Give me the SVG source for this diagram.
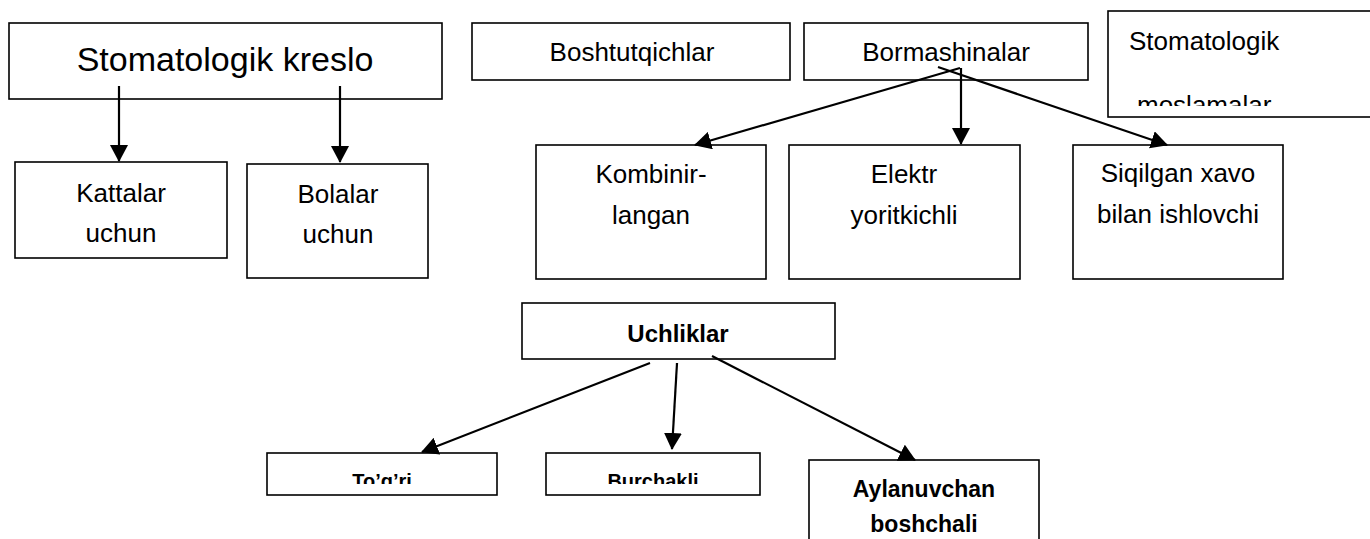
<svg xmlns="http://www.w3.org/2000/svg" width="1370" height="539" viewBox="0 0 1370 539">
<style>
.box{fill:#fff;stroke:#000;stroke-width:1.6}
.t{font-family:"Liberation Sans",Arial,sans-serif;font-size:26px;fill:#000;text-anchor:middle}
.b{font-weight:bold}
.c{stroke:#000;stroke-width:2.2;fill:none;marker-end:url(#ah)}
</style>
<defs>
<marker id="ah" markerUnits="userSpaceOnUse" markerWidth="18" markerHeight="18" viewBox="0 0 18 18" refX="16" refY="9" orient="auto">
<path d="M0,0 L17,9 L0,18 Z" fill="#000"/>
</marker>
<clipPath id="cm"><rect x="1108" y="11" width="262" height="95"/></clipPath>
<clipPath id="ct"><rect x="267" y="453" width="500" height="31"/></clipPath>
</defs>
<rect width="1370" height="539" fill="#fff"/>
<g id="n-kreslo"><rect class="box" x="9" y="23" width="433" height="76"/><text class="t" x="225" y="71" style="font-size:34px">Stomatologik kreslo</text></g>
<g id="n-kattalar"><rect class="box" x="15" y="162" width="212" height="96"/><text class="t" x="121" y="202">Kattalar</text><text class="t" x="121" y="242">uchun</text></g>
<g id="n-bolalar"><rect class="box" x="247" y="164" width="181" height="114"/><text class="t" x="338" y="203">Bolalar</text><text class="t" x="338" y="243">uchun</text></g>
<g id="n-boshtutqich"><rect class="box" x="472" y="23" width="318" height="57"/><text class="t" x="632" y="61">Boshtutqichlar</text></g>
<g id="n-bormashina"><rect class="box" x="804" y="23" width="284" height="57"/><text class="t" x="946" y="61">Bormashinalar</text></g>
<g id="n-moslama"><rect class="box" x="1108" y="11" width="270" height="106"/><text class="t" x="1129" y="50" style="text-anchor:start">Stomatologik</text><text class="t" x="1137" y="114" clip-path="url(#cm)" style="text-anchor:start">moslamalar</text></g>
<g id="n-kombinir"><rect class="box" x="536" y="145" width="230" height="134"/><text class="t" x="651" y="183">Kombinir-</text><text class="t" x="651" y="224">langan</text></g>
<g id="n-elektr"><rect class="box" x="789" y="145" width="231" height="134"/><text class="t" x="904" y="183">Elektr</text><text class="t" x="904" y="224">yoritkichli</text></g>
<g id="n-siqilgan"><rect class="box" x="1073" y="145" width="210" height="134"/><text class="t" x="1178" y="182">Siqilgan xavo</text><text class="t" x="1178" y="223">bilan ishlovchi</text></g>
<g id="n-uchlik"><rect class="box" x="522" y="303" width="313" height="56"/><text class="t b" x="678" y="342" style="font-size:24px">Uchliklar</text></g>
<g id="n-togri"><rect class="box" x="267" y="453" width="230" height="42"/><text class="t b" x="382" y="488" clip-path="url(#ct)" style="font-size:20px">To’g’ri</text></g>
<g id="n-burchak"><rect class="box" x="546" y="453" width="214" height="42"/><text class="t b" x="653" y="488" clip-path="url(#ct)" style="font-size:20px">Burchakli</text></g>
<g id="n-aylanuv"><rect class="box" x="809" y="460" width="230" height="100"/><text class="t b" x="924" y="497" style="font-size:23px">Aylanuvchan</text><text class="t b" x="924" y="532" style="font-size:23px">boshchali</text></g>
<g id="connectors">
<line class="c" x1="119" y1="86" x2="119" y2="161"/>
<line class="c" x1="340" y1="86" x2="340" y2="162"/>
<line class="c" x1="960" y1="68" x2="695" y2="145"/>
<line class="c" x1="961" y1="68" x2="961" y2="144"/>
<line class="c" x1="938" y1="67" x2="1167" y2="145"/>
<line class="c" x1="650" y1="363" x2="422" y2="452"/>
<line class="c" x1="677" y1="363" x2="672" y2="449"/>
<line class="c" x1="712" y1="356" x2="915" y2="460"/>
</g>
</svg>
